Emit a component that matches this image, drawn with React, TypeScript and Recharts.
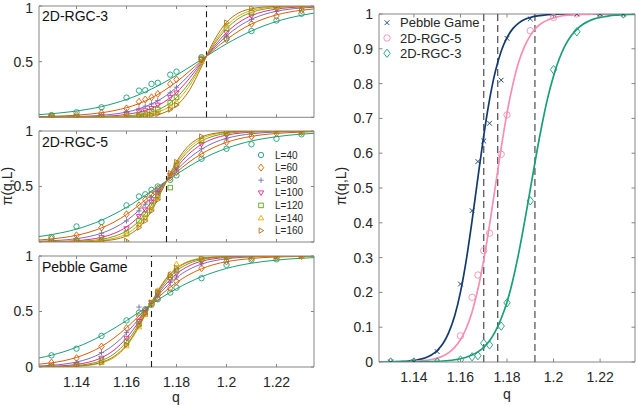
import { ComposedChart, Line, XAxis, YAxis, ReferenceLine, ReferenceArea } from 'recharts'

// q grid of the fitted curves (left panels) and of the measured points
const qFit = [
  1.125, 1.13, 1.135, 1.14, 1.145, 1.15, 1.155, 1.16, 1.165, 1.17, 1.175, 1.18,
  1.185, 1.19, 1.195, 1.2, 1.205, 1.21, 1.215, 1.22, 1.225, 1.23, 1.235,
]
const qPoints = [1.13, 1.14, 1.15, 1.16, 1.165, 1.1675, 1.17, 1.1725, 1.1775, 1.18, 1.19, 1.2, 1.21, 1.22, 1.23]

const sizes = [40, 60, 80, 100, 120, 140, 160]
const xTicks = [1.14, 1.16, 1.18, 1.2, 1.22]
const yTicksSmall = [0, 0.5, 1]
const yTicksBig = [0, 0.1, 0.2, 0.3, 0.4, 0.5, 0.6, 0.7, 0.8, 0.9, 1]

// 2D-RGC-3, one row per L
const rgc3Fit = [
  [0.024, 0.032, 0.043, 0.056, 0.074, 0.096, 0.125, 0.16, 0.203, 0.254, 0.312, 0.378, 0.448, 0.52, 0.592, 0.66, 0.721, 0.776, 0.822, 0.861, 0.892, 0.917, 0.936],
  [0.006, 0.009, 0.013, 0.019, 0.028, 0.041, 0.06, 0.086, 0.123, 0.174, 0.239, 0.319, 0.411, 0.51, 0.608, 0.698, 0.776, 0.838, 0.885, 0.92, 0.945, 0.962, 0.974],
  [0.002, 0.003, 0.004, 0.007, 0.011, 0.018, 0.029, 0.047, 0.076, 0.119, 0.182, 0.269, 0.378, 0.5, 0.622, 0.731, 0.818, 0.881, 0.924, 0.953, 0.971, 0.982, 0.989],
  [0, 0.001, 0.001, 0.002, 0.004, 0.008, 0.014, 0.026, 0.046, 0.08, 0.137, 0.224, 0.345, 0.49, 0.636, 0.761, 0.853, 0.914, 0.951, 0.972, 0.985, 0.992, 0.995],
  [0, 0, 0, 0.001, 0.001, 0.003, 0.006, 0.012, 0.024, 0.048, 0.094, 0.177, 0.306, 0.478, 0.654, 0.796, 0.89, 0.943, 0.972, 0.986, 0.993, 0.997, 0.998],
  [0, 0, 0, 0, 0.001, 0.001, 0.003, 0.006, 0.014, 0.031, 0.069, 0.144, 0.277, 0.468, 0.668, 0.821, 0.913, 0.96, 0.982, 0.992, 0.996, 0.998, 0.999],
  [0, 0, 0, 0, 0, 0, 0.001, 0.002, 0.006, 0.016, 0.042, 0.105, 0.237, 0.453, 0.688, 0.853, 0.939, 0.976, 0.991, 0.997, 0.999, 1, 1],
]
const rgc3Pts = [
  [0.02, 0.045, 0.09, 0.177, 0.24, 0.243, 0.3, 0.31, 0.383, 0.41, 0.54, 0.71, 0.775, 0.87, 0.93],
  [0.01, 0.02, 0.04, 0.08, 0.14, 0.16, 0.18, 0.21, 0.3, 0.34, 0.52, 0.7, 0.84, 0.91, 0.96],
  [0, 0.01, 0.02, 0.05, 0.08, 0.1, 0.12, 0.15, 0.22, 0.27, 0.5, 0.73, 0.88, 0.95, 0.98],
  [0, 0, 0.01, 0.03, 0.05, 0.06, 0.08, 0.11, 0.18, 0.22, 0.52, 0.76, 0.91, 0.97, 0.99],
  [0, 0, 0, 0.01, 0.02, 0.03, 0.05, 0.07, 0.13, 0.18, 0.53, 0.8, 0.94, 0.99, 1],
  [0, 0, 0, 0.01, 0.01, 0.02, 0.03, 0.05, 0.1, 0.14, 0.5, 0.82, 0.96, 0.99, 1],
  [0, 0, 0, 0, 0.01, 0.01, 0.02, 0.03, 0.07, 0.11, 0.52, 0.85, 0.98, 1, 1],
]

// 2D-RGC-5
const rgc5Fit = [
  [0.049, 0.066, 0.088, 0.116, 0.152, 0.196, 0.25, 0.312, 0.382, 0.458, 0.535, 0.611, 0.681, 0.745, 0.799, 0.844, 0.881, 0.91, 0.932, 0.949, 0.962, 0.972, 0.979],
  [0.018, 0.027, 0.041, 0.06, 0.088, 0.127, 0.179, 0.248, 0.332, 0.428, 0.53, 0.629, 0.719, 0.794, 0.853, 0.898, 0.93, 0.952, 0.968, 0.978, 0.985, 0.99, 0.994],
  [0.007, 0.011, 0.018, 0.03, 0.049, 0.079, 0.126, 0.193, 0.285, 0.399, 0.525, 0.648, 0.754, 0.836, 0.895, 0.934, 0.959, 0.975, 0.985, 0.991, 0.994, 0.997, 0.998],
  [0.002, 0.003, 0.006, 0.012, 0.023, 0.042, 0.077, 0.136, 0.23, 0.361, 0.517, 0.67, 0.794, 0.88, 0.933, 0.963, 0.98, 0.99, 0.994, 0.997, 0.998, 0.999, 1],
  [0.001, 0.001, 0.003, 0.006, 0.012, 0.024, 0.05, 0.1, 0.19, 0.332, 0.512, 0.69, 0.825, 0.909, 0.955, 0.978, 0.99, 0.995, 0.998, 0.999, 1, 1, 1],
  [0, 0, 0.001, 0.003, 0.006, 0.014, 0.033, 0.074, 0.158, 0.306, 0.507, 0.707, 0.849, 0.93, 0.969, 0.986, 0.994, 0.997, 0.999, 1, 1, 1, 1],
  [0, 0, 0, 0.001, 0.003, 0.009, 0.022, 0.055, 0.131, 0.281, 0.502, 0.723, 0.871, 0.946, 0.978, 0.991, 0.997, 0.999, 1, 1, 1, 1, 1],
]
const rgc5Pts = [
  [0.045, 0.14, 0.18, 0.33, 0.41, 0.43, 0.47, 0.5, 0.56, 0.6, 0.75, 0.84, 0.88, 0.93, 0.97],
  [0.03, 0.06, 0.13, 0.25, 0.33, 0.38, 0.43, 0.48, 0.58, 0.63, 0.79, 0.9, 0.95, 0.98, 0.99],
  [0.01, 0.03, 0.08, 0.19, 0.28, 0.34, 0.4, 0.46, 0.59, 0.65, 0.84, 0.93, 0.98, 0.99, 1],
  [0, 0.01, 0.04, 0.12, 0.23, 0.29, 0.36, 0.44, 0.6, 0.67, 0.88, 0.96, 0.99, 1, 1],
  [0, 0.01, 0.02, 0.08, 0.19, 0.25, 0.33, 0.42, 0.49, 0.69, 0.91, 0.98, 1, 1, 1],
  [0, 0, 0.01, 0.07, 0.16, 0.22, 0.31, 0.4, 0.61, 0.71, 0.93, 0.99, 1, 1, 1],
  [0, 0, 0.01, 0.01, 0.13, 0.19, 0.28, 0.38, 0.62, 0.72, 0.95, 0.99, 1, 1, 1],
]

// Pebble Game
const pebbleFit = [
  [0.081, 0.106, 0.138, 0.178, 0.226, 0.283, 0.348, 0.418, 0.493, 0.567, 0.639, 0.705, 0.763, 0.813, 0.854, 0.888, 0.915, 0.935, 0.951, 0.963, 0.973, 0.98, 0.985],
  [0.025, 0.038, 0.057, 0.086, 0.128, 0.185, 0.261, 0.354, 0.46, 0.57, 0.673, 0.761, 0.832, 0.885, 0.923, 0.949, 0.966, 0.978, 0.986, 0.991, 0.994, 0.996, 0.998],
  [0.009, 0.015, 0.026, 0.045, 0.076, 0.126, 0.201, 0.306, 0.435, 0.574, 0.703, 0.805, 0.879, 0.927, 0.957, 0.975, 0.986, 0.992, 0.995, 0.997, 0.998, 0.999, 1],
  [0.003, 0.006, 0.012, 0.023, 0.044, 0.084, 0.152, 0.261, 0.409, 0.577, 0.727, 0.84, 0.911, 0.953, 0.975, 0.987, 0.994, 0.997, 0.998, 0.999, 1, 1, 1],
  [0.001, 0.003, 0.006, 0.013, 0.028, 0.058, 0.118, 0.226, 0.387, 0.579, 0.748, 0.866, 0.933, 0.968, 0.985, 0.993, 0.997, 0.999, 1, 1, 1, 1, 1],
  [0, 0.001, 0.003, 0.006, 0.015, 0.037, 0.085, 0.187, 0.361, 0.582, 0.774, 0.894, 0.954, 0.981, 0.992, 0.997, 0.999, 1, 1, 1, 1, 1, 1],
  [0.001, 0.001, 0.003, 0.008, 0.019, 0.043, 0.095, 0.199, 0.371, 0.582, 0.767, 0.886, 0.948, 0.977, 0.99, 0.996, 0.998, 0.999, 1, 1, 1, 1, 1],
]
const pebblePts = [
  [0.105, 0.165, 0.28, 0.42, 0.49, 0.52, 0.56, 0.61, 0.67, 0.715, 0.8, 0.92, 0.965, 0.97, 1],
  [0.04, 0.08, 0.185, 0.35, 0.46, 0.51, 0.57, 0.62, 0.71, 0.77, 0.89, 0.95, 0.98, 0.99, 1],
  [0.01, 0.04, 0.13, 0.31, 0.54, 0.51, 0.57, 0.64, 0.76, 0.81, 0.93, 0.97, 0.99, 1, 1],
  [0.01, 0.02, 0.08, 0.26, 0.41, 0.49, 0.58, 0.66, 0.79, 0.84, 0.95, 0.99, 1, 1, 1],
  [0, 0.01, 0.06, 0.23, 0.39, 0.48, 0.58, 0.67, 0.81, 0.87, 0.97, 0.99, 1, 1, 1],
  [0, 0.01, 0.04, 0.19, 0.36, 0.47, 0.58, 0.69, 0.84, 0.93, 0.98, 1, 1, 1, 1],
  [0, 0.01, 0.04, 0.2, 0.37, 0.48, 0.58, 0.68, 0.83, 0.89, 0.98, 1, 1, 1, 1],
]

// right panel: finer grid for the steep fits
const qFitBig = [
  1.125, 1.1275, 1.13, 1.1325, 1.135, 1.1375, 1.14, 1.1425, 1.145, 1.1475, 1.15, 1.1525,
  1.155, 1.1575, 1.16, 1.1625, 1.165, 1.1675, 1.17, 1.1725, 1.175, 1.1775, 1.18, 1.1825,
  1.185, 1.1875, 1.19, 1.1925, 1.195, 1.1975, 1.2, 1.2025, 1.205, 1.2075, 1.21, 1.2125,
  1.215, 1.2175, 1.22, 1.2225, 1.225, 1.2275, 1.23, 1.2325, 1.235,
]
const pebbleCurve = [
  0, 0.0004, 0.0006, 0.001, 0.0017, 0.0028, 0.0046, 0.0075, 0.0124, 0.02, 0.033, 0.053,
  0.085, 0.132, 0.201, 0.293, 0.406, 0.53, 0.65, 0.754, 0.835, 0.893, 0.932, 0.958,
  0.974, 0.984, 0.99, 0.994, 0.996, 0.998, 0.999, 1, 1, 1, 1, 1,
  1, 1, 1, 1, 1, 1, 1, 1, 1,
]
const rgc5Curve = [
  0.0001, 0.0002, 0.0003, 0.0005, 0.0008, 0.0012, 0.0019, 0.003, 0.0046, 0.0072, 0.0112, 0.0175,
  0.027, 0.042, 0.064, 0.097, 0.144, 0.209, 0.293, 0.394, 0.505, 0.615, 0.715, 0.797,
  0.861, 0.906, 0.938, 0.96, 0.974, 0.983, 0.989, 0.993, 0.996, 0.997, 0.998, 0.999,
  0.999, 1, 1, 1, 1, 1, 1, 1, 1,
]
const rgc3Curve = [
  0, 0, 0.0001, 0.0001, 0.0002, 0.0003, 0.0004, 0.0006, 0.0009, 0.0014, 0.002, 0.0029,
  0.0043, 0.0064, 0.0093, 0.0137, 0.02, 0.029, 0.042, 0.061, 0.088, 0.125, 0.172, 0.235,
  0.312, 0.401, 0.496, 0.592, 0.681, 0.759, 0.822, 0.872, 0.91, 0.937, 0.956, 0.97,
  0.979, 0.986, 0.99, 0.993, 0.996, 0.997, 0.998, 0.999, 0.999,
]
const pebbleAvg = [0, 0, 0.03, 0.224, 0.435, 0.576, 0.635, 0.686, 0.81, 0.93, 0.986, 1, 1, 1, 1]
const rgc5Avg = [0, 0, 0, 0.075, 0.186, 0.25, 0.32, 0.37, 0.597, 0.71, 0.952, 0.99, 1, 1, 1]
const rgc3Avg = [0, 0, 0, 0.006, 0.015, 0.018, 0.054, 0.049, 0.103, 0.17, 0.463, 0.84, 0.949, 1, 1]

const criticalQ = { rgc3: 1.192, rgc5: 1.176, pebble: 1.17 }

const colors = ['#1b9e77', '#d95f02', '#7570b3', '#e7298a', '#66a61e', '#e6ab02', '#a6761d']
const shapes = ['circle', 'diamond', 'plus', 'triDown', 'square', 'triUp', 'triRight']
const bigNames = ['Pebble Game', '2D-RGC-5', '2D-RGC-3']
const bigColors = ['#133a6c', '#f48fb3', '#1b9e77']
const bigShapes = ['x', 'circle', 'diamond']

const X_DOMAIN = [1.125, 1.235]
const FRAME = '#858585'
const TEXT = '#262626'
const tickStyle = { fontSize: 14, fill: TEXT }

const toRows = (xs: number[], cols: number[][]) =>
  xs.map((q, i) => {
    const row: Record<string, number> = { q }
    cols.forEach((c, j) => {
      row['s' + j] = c[i]
    })
    return row
  })

const Marker = ({ cx, cy, shape, color, r }: any) => {
  if (cx == null || cy == null) return null
  const st = { fill: 'none', stroke: color, strokeWidth: 0.9 }
  switch (shape) {
    case 'circle':
      return <circle cx={cx} cy={cy} r={r} {...st} />
    case 'diamond':
      return <polygon points={`${cx},${cy - r * 1.3} ${cx + r},${cy} ${cx},${cy + r * 1.3} ${cx - r},${cy}`} {...st} />
    case 'plus':
      return <path d={`M${cx - r},${cy}H${cx + r}M${cx},${cy - r}V${cy + r}`} {...st} />
    case 'x':
      return <path d={`M${cx - r},${cy - r}L${cx + r},${cy + r}M${cx - r},${cy + r}L${cx + r},${cy - r}`} {...st} />
    case 'square':
      return <rect x={cx - r * 0.85} y={cy - r * 0.85} width={r * 1.7} height={r * 1.7} {...st} />
    case 'triDown':
      return <polygon points={`${cx - r},${cy - r * 0.7} ${cx + r},${cy - r * 0.7} ${cx},${cy + r}`} {...st} />
    case 'triUp':
      return <polygon points={`${cx - r},${cy + r * 0.7} ${cx + r},${cy + r * 0.7} ${cx},${cy - r}`} {...st} />
    case 'triRight':
      return <polygon points={`${cx - r * 0.7},${cy - r} ${cx - r * 0.7},${cy + r} ${cx + r},${cy}`} {...st} />
    default:
      return null
  }
}

// inward MATLAB-style ticks on all four sides
const boxTicks = (yTicks: number[], lenX: number, lenY: number) => {
  const out: any[] = []
  xTicks.forEach((t) => {
    out.push(<ReferenceLine key={'xb' + t} segment={[{ x: t, y: 0 }, { x: t, y: lenY }]} stroke={FRAME} />)
    out.push(<ReferenceLine key={'xt' + t} segment={[{ x: t, y: 1 }, { x: t, y: 1 - lenY }]} stroke={FRAME} />)
  })
  yTicks.forEach((t) => {
    out.push(<ReferenceLine key={'yl' + t} segment={[{ x: X_DOMAIN[0], y: t }, { x: X_DOMAIN[0] + lenX, y: t }]} stroke={FRAME} />)
    out.push(<ReferenceLine key={'yr' + t} segment={[{ x: X_DOMAIN[1], y: t }, { x: X_DOMAIN[1] - lenX, y: t }]} stroke={FRAME} />)
  })
  return out
}

const SmallPanel = ({ top, height, marginTop, marginBottom, fits, points, qc, showX }: any) => {
  const fitRows = toRows(qFit, fits)
  const ptRows = toRows(qPoints, points)
  return (
    <div style={{ position: 'absolute', left: 0, top }}>
      <ComposedChart width={320} height={height} margin={{ top: marginTop, right: 6, bottom: marginBottom, left: 9 }}>
        <XAxis
          type='number'
          dataKey='q'
          domain={X_DOMAIN}
          ticks={xTicks}
          hide={!showX}
          height={30}
          axisLine={false}
          tickLine={false}
          tickSize={0}
          tickMargin={10}
          tick={tickStyle}
          allowDataOverflow
        />
        <YAxis
          type='number'
          domain={[0, 1]}
          ticks={yTicksSmall}
          width={30}
          axisLine={false}
          tickLine={false}
          tickSize={0}
          tickMargin={6}
          tick={tickStyle}
          allowDataOverflow
        />
        <ReferenceLine x={qc} stroke='#1a1a1a' strokeWidth={1.1} strokeDasharray='6 4' />
        {fits.map((_: any, j: number) => (
          <Line
            key={'f' + j}
            data={fitRows}
            dataKey={'s' + j}
            type='monotone'
            stroke={colors[j]}
            strokeWidth={1}
            dot={false}
            activeDot={false}
            isAnimationActive={false}
          />
        ))}
        {points.map((_: any, j: number) => (
          <Line
            key={'p' + j}
            data={ptRows}
            dataKey={'s' + j}
            stroke='none'
            activeDot={false}
            isAnimationActive={false}
            dot={(p: any) => <Marker key={'m' + j + '-' + p.index} cx={p.cx} cy={p.cy} shape={shapes[j]} color={colors[j]} r={2.7} />}
          />
        ))}
        {boxTicks(yTicksSmall, 0.0012, 0.027)}
        <ReferenceArea x1={X_DOMAIN[0]} x2={X_DOMAIN[1]} y1={0} y2={1} fill='none' stroke={FRAME} strokeWidth={1} />
      </ComposedChart>
    </div>
  )
}

const BigPanel = () => {
  const fitRows = toRows(qFitBig, [pebbleCurve, rgc5Curve, rgc3Curve])
  const ptRows = toRows(qPoints, [pebbleAvg, rgc5Avg, rgc3Avg])
  return (
    <div style={{ position: 'absolute', left: 330, top: 0 }}>
      <ComposedChart width={308} height={405} margin={{ top: 14, right: 3, bottom: 13, left: 15 }}>
        <XAxis
          type='number'
          dataKey='q'
          domain={X_DOMAIN}
          ticks={xTicks}
          height={30}
          axisLine={false}
          tickLine={false}
          tickSize={0}
          tickMargin={10}
          tick={tickStyle}
          allowDataOverflow
        />
        <YAxis
          type='number'
          domain={[0, 1]}
          ticks={yTicksBig}
          width={34}
          axisLine={false}
          tickLine={false}
          tickSize={0}
          tickMargin={6}
          tick={tickStyle}
          allowDataOverflow
        />
        {[criticalQ.pebble, criticalQ.rgc5, criticalQ.rgc3].map((q) => (
          <ReferenceLine key={'c' + q} x={q} stroke='#5a5a5a' strokeWidth={1.3} strokeDasharray='7 4' />
        ))}
        {[0, 1, 2].map((j) => (
          <Line
            key={'f' + j}
            data={fitRows}
            dataKey={'s' + j}
            type='monotone'
            stroke={bigColors[j]}
            strokeWidth={1.7}
            dot={false}
            activeDot={false}
            isAnimationActive={false}
          />
        ))}
        {[0, 1, 2].map((j) => (
          <Line
            key={'p' + j}
            data={ptRows}
            dataKey={'s' + j}
            stroke='none'
            activeDot={false}
            isAnimationActive={false}
            dot={(p: any) => (
              <Marker key={'b' + j + '-' + p.index} cx={p.cx} cy={p.cy} shape={bigShapes[j]} color={bigColors[j]} r={j === 0 ? 2.4 : 3.2} />
            )}
          />
        ))}
        {boxTicks(yTicksBig, 0.0015, 0.01)}
        <ReferenceArea x1={X_DOMAIN[0]} x2={X_DOMAIN[1]} y1={0} y2={1} fill='none' stroke={FRAME} strokeWidth={1} />
      </ComposedChart>
    </div>
  )
}

const panelTitles = ['2D-RGC-3', '2D-RGC-5', 'Pebble Game']
const titleBaselines = [21, 146.5, 271.5]

export default function App() {
  return (
    <div
      style={{
        position: 'absolute',
        left: 0,
        top: 0,
        width: 638,
        height: 405,
        background: '#fff',
        fontFamily: "'Liberation Sans', Arial, sans-serif",
        overflow: 'hidden',
      }}
    >
      <SmallPanel top={0} height={124} marginTop={6} marginBottom={6.7} fits={rgc3Fit} points={rgc3Pts} qc={criticalQ.rgc3} showX={false} />
      <SmallPanel top={123} height={126} marginTop={8} marginBottom={7} fits={rgc5Fit} points={rgc5Pts} qc={criticalQ.rgc5} showX={false} />
      <SmallPanel top={248} height={157} marginTop={8} marginBottom={8} fits={pebbleFit} points={pebblePts} qc={criticalQ.pebble} showX />
      <BigPanel />

      <svg width={638} height={405} style={{ position: 'absolute', left: 0, top: 0, pointerEvents: 'none' }}>
        {panelTitles.map((t, i) => (
          <text key={t} x={42} y={titleBaselines[i]} fontSize={14} fill='#111'>
            {t}
          </text>
        ))}

        {/* L legend inside the middle panel */}
        {sizes.map((L, i) => (
          <g key={L}>
            <Marker cx={261} cy={155 + i * 12.6} shape={shapes[i]} color={colors[i]} r={2.7} />
            <text x={275} y={155 + i * 12.6 + 3.6} fontSize={10} fill={TEXT}>
              {'L=' + L}
            </text>
          </g>
        ))}

        {/* legend of the right panel */}
        {bigNames.map((n, i) => (
          <g key={n}>
            <Marker cx={387} cy={22.7 + i * 15.3} shape={bigShapes[i]} color={bigColors[i]} r={i === 0 ? 2.4 : 3.2} />
            <text x={400} y={22.7 + i * 15.3 + 4.6} fontSize={13} fill={TEXT}>
              {n}
            </text>
          </g>
        ))}

        <text transform='translate(12,186) rotate(-90)' textAnchor='middle' fontSize={14} fill={TEXT}>
          π(q,L)
        </text>
        <text transform='translate(346,186) rotate(-90)' textAnchor='middle' fontSize={14} fill={TEXT}>
          π(q,L)
        </text>
        <text x={176} y={402} textAnchor='middle' fontSize={14} fill={TEXT}>
          q
        </text>
        <text x={507} y={399} textAnchor='middle' fontSize={14} fill={TEXT}>
          q
        </text>
      </svg>
    </div>
  )
}
